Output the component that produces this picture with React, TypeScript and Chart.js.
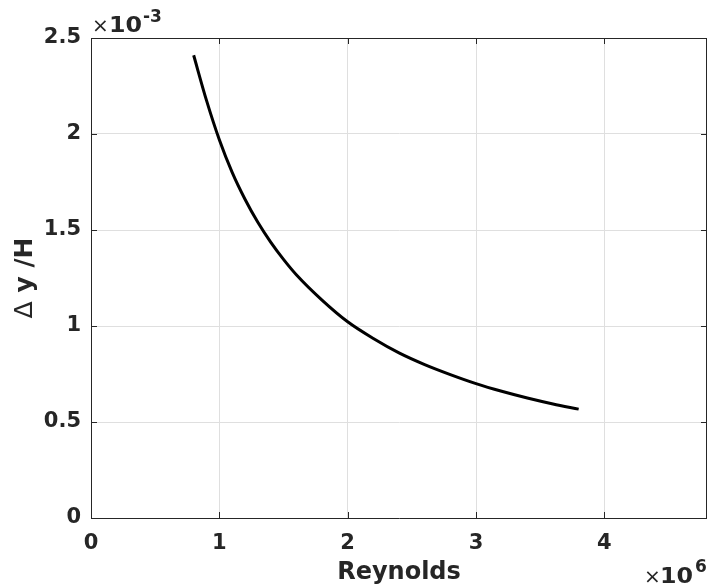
import React, { useEffect, useRef } from "react";
import { Chart, registerables } from "chart.js";

Chart.register(...registerables);

// Reynolds number (×10^6)
const reynolds = [0.8, 0.9, 1.0, 1.1, 1.2, 1.3, 1.4, 1.5, 1.6, 1.8, 2.0, 2.2, 2.4, 2.6, 2.8, 3.0, 3.2, 3.4, 3.6, 3.8];
// Δy/H (×10^-3)
const deltaYoverH = [2.41, 2.175, 1.97, 1.8, 1.66, 1.54, 1.437, 1.347, 1.267, 1.135, 1.022, 0.935, 0.86, 0.799, 0.747, 0.7, 0.66, 0.625, 0.594, 0.567];

const xTicks = [0, 1, 2, 3, 4];
const yTicks = [0, 0.5, 1, 1.5, 2, 2.5];
const xTickLabels = ["0", "1", "2", "3", "4"];
const yTickLabels = ["0", "0.5", "1", "1.5", "2", "2.5"];

const xTitle = "Reynolds";
const yTitleSymbol = "Δ";
const yTitleRest = " y /H";
const xExponent = "6";
const yExponent = "-3";

const X_MIN = 0;
const X_MAX = 4.8;
const Y_MIN = 0;
const Y_MAX = 2.5;

const FONT = "'DejaVu Sans', sans-serif";
const TXT = "#262626";
const GRID = "#dfdfdf";

function drawExponent(
  ctx: CanvasRenderingContext2D,
  timesX: number,
  tenX: number,
  supX: number,
  base: number,
  sup: string,
  supBase: number
) {
  ctx.textAlign = "left";
  ctx.font = `20px ${FONT}`;
  ctx.fillText("×", timesX, base);
  ctx.font = `bold 21px ${FONT}`;
  ctx.save();
  ctx.translate(tenX, base);
  ctx.scale(1.13, 1);
  ctx.fillText("10", 0, 0);
  ctx.restore();
  ctx.font = `bold 17px ${FONT}`;
  ctx.fillText(sup, supX, supBase);
}

const boxPlugin = {
  id: "matlabBox",
  afterDraw(chart: any) {
    const ctx = chart.ctx as CanvasRenderingContext2D;
    const { left, right, top, bottom } = chart.chartArea;
    const xs = chart.scales.x;
    const ys = chart.scales.y;
    ctx.save();
    ctx.strokeStyle = TXT;
    ctx.lineWidth = 1;
    ctx.beginPath();
    ctx.moveTo(left, top + 0.5);
    ctx.lineTo(right, top + 0.5);
    ctx.moveTo(right - 0.5, top);
    ctx.lineTo(right - 0.5, bottom);
    const tl = 6;
    xTicks.forEach((v) => {
      const px = Math.round(xs.getPixelForValue(v)) + 0.5;
      ctx.moveTo(px, bottom);
      ctx.lineTo(px, bottom - tl);
      ctx.moveTo(px, top);
      ctx.lineTo(px, top + tl);
    });
    yTicks.forEach((v) => {
      const py = Math.round(ys.getPixelForValue(v)) + 0.5;
      ctx.moveTo(left, py);
      ctx.lineTo(left + tl, py);
      ctx.moveTo(right, py);
      ctx.lineTo(right - tl, py);
    });
    ctx.stroke();

    ctx.fillStyle = TXT;
    ctx.textBaseline = "alphabetic";
    drawExponent(ctx, 92, 109, 143, 32, yExponent, 22);
    drawExponent(ctx, 644, 660, 695, 583, xExponent, 572);

    // x title
    ctx.font = `bold 24px ${FONT}`;
    ctx.textAlign = "center";
    ctx.fillText(xTitle, (left + right) / 2, 579);

    // y title (rotated)
    ctx.save();
    ctx.translate(31.5, (top + bottom) / 2);
    ctx.rotate(-Math.PI / 2);
    ctx.textAlign = "left";
    ctx.font = `25px ${FONT}`;
    const w1 = ctx.measureText(yTitleSymbol).width;
    ctx.font = `bold 25px ${FONT}`;
    const w2 = ctx.measureText(yTitleRest).width;
    const start = -(w1 + w2) / 2;
    ctx.font = `25px ${FONT}`;
    ctx.fillText(yTitleSymbol, start, 0);
    ctx.font = `bold 25px ${FONT}`;
    ctx.fillText(yTitleRest, start + w1, 0);
    ctx.restore();
    ctx.restore();
  },
};

export default function App() {
  const canvasRef = useRef<HTMLCanvasElement | null>(null);

  useEffect(() => {
    document.body.style.margin = "0";
    const canvas = canvasRef.current;
    if (!canvas) return;
    const points = reynolds.map((x, i) => ({ x, y: deltaYoverH[i] }));
    const chart = new Chart(canvas, {
      type: "line",
      data: {
        datasets: [
          {
            data: points,
            borderColor: "#000000",
            borderWidth: 3,
            pointRadius: 0,
            fill: false,
            cubicInterpolationMode: "monotone",
          },
        ],
      },
      options: {
        animation: false,
        responsive: false,
        maintainAspectRatio: false,
        layout: { padding: { top: 38, right: 0, left: 0, bottom: 0 } },
        plugins: {
          legend: { display: false },
          tooltip: { enabled: false },
        },
        scales: {
          x: {
            type: "linear",
            min: X_MIN,
            max: X_MAX,
            afterBuildTicks: (s: any) => {
              s.ticks = xTicks.map((v) => ({ value: v }));
            },
            afterFit: (s: any) => {
              s.height = 69;
            },
            grid: { color: GRID, drawTicks: false, lineWidth: 1 },
            border: { display: true, color: TXT, width: 1 },
            ticks: {
              padding: 13,
              color: TXT,
              font: { family: FONT, size: 21, weight: "bold" },
              maxRotation: 0,
              callback: (v: any) => {
                const i = xTicks.indexOf(Number(v));
                return i >= 0 ? xTickLabels[i] : "";
              },
            },
            title: { display: false },
          },
          y: {
            type: "linear",
            min: Y_MIN,
            max: Y_MAX,
            afterBuildTicks: (s: any) => {
              s.ticks = yTicks.map((v) => ({ value: v }));
            },
            afterFit: (s: any) => {
              s.width = 91;
            },
            grid: { color: GRID, drawTicks: false, lineWidth: 1 },
            border: { display: true, color: TXT, width: 1 },
            ticks: {
              padding: 10,
              color: TXT,
              font: { family: FONT, size: 21, weight: "bold" },
              callback: (v: any) => {
                const i = yTicks.indexOf(Number(v));
                return i >= 0 ? yTickLabels[i] : "";
              },
            },
            title: { display: false },
          },
        },
      },
      plugins: [boxPlugin],
    } as any);
    return () => chart.destroy();
  }, []);

  return (
    <div style={{ position: "absolute", left: 0, top: 0, width: 707, height: 587 }}>
      <canvas ref={canvasRef} width={707} height={587} style={{ width: 707, height: 587 }} />
    </div>
  );
}
